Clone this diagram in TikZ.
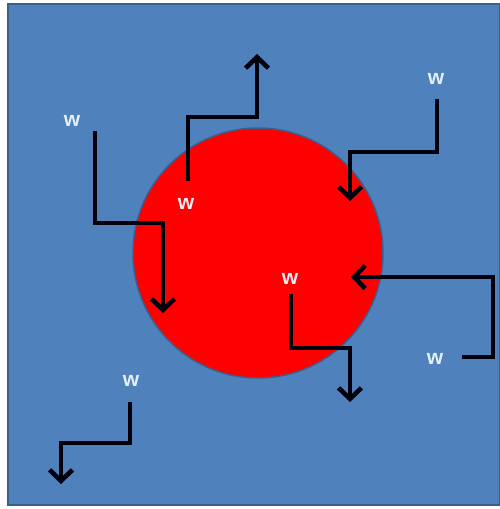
\documentclass[tikz,border=0pt]{standalone}
\usepackage{fontspec}
\setmainfont{Liberation Sans}
\usetikzlibrary{arrows.meta}
\definecolor{panelblue}{HTML}{4F81BD}
\definecolor{paneledge}{HTML}{3A5F8C}
\definecolor{coreRed}{HTML}{FF0000}
\definecolor{labelwhite}{HTML}{E6EEF6}
\tikzset{
  wlabel/.style={text=labelwhite, font=\bfseries\fontsize{21}{21}\selectfont, inner sep=0pt},
  walk/.style={line width=4.6pt, draw=black!95!blue, -{Straight Barb[length=11pt,width=23pt]}, line join=miter},
}
\begin{document}
\begin{tikzpicture}[x=1pt,y=-1pt]
\useasboundingbox (0,0) rectangle (500,509);
% background panel
\fill[white] (0,0) rectangle (500,509);
\draw[fill=panelblue, draw=paneledge, line width=2pt] (8,4) rectangle (500,505);
% red disc
\draw[fill=coreRed, draw=paneledge, line width=1.5pt] (258,253) circle[radius=125];

% labels
\node[wlabel] (w1) at (72,121) {w};
\node[wlabel] (w2) at (186,204) {w};
\node[wlabel] (w3) at (436,79) {w};
\node[wlabel] (w4) at (435,359) {w};
\node[wlabel] (w5) at (290,279) {w};
\node[wlabel] (w6) at (131,381) {w};

% walk 1
\coordinate (a1) at (95,131);
\coordinate (b1) at (163,313);
\draw[walk] (a1) |- (163,223) -- (b1);
% walk 2
\coordinate (a2) at (188,181);
\coordinate (b2) at (257,54);
\draw[walk] (a2) |- (257,117) -- (b2);
% walk 3
\coordinate (a3) at (437,99);
\coordinate (b3) at (350,201);
\draw[walk] (a3) |- (350,152) -- (b3);
% walk 4
\coordinate (a4) at (462,357);
\coordinate (b4) at (351,277);
\draw[walk] (a4) -| (493,277) -- (b4);
% walk 5
\coordinate (a5) at (291,294);
\coordinate (b5) at (350,402);
\draw[walk] (a5) |- (350,348) -- (b5);
% walk 6
\coordinate (a6) at (130,402);
\coordinate (b6) at (61,484);
\draw[walk] (a6) |- (61,443) -- (b6);
\end{tikzpicture}
\end{document}
